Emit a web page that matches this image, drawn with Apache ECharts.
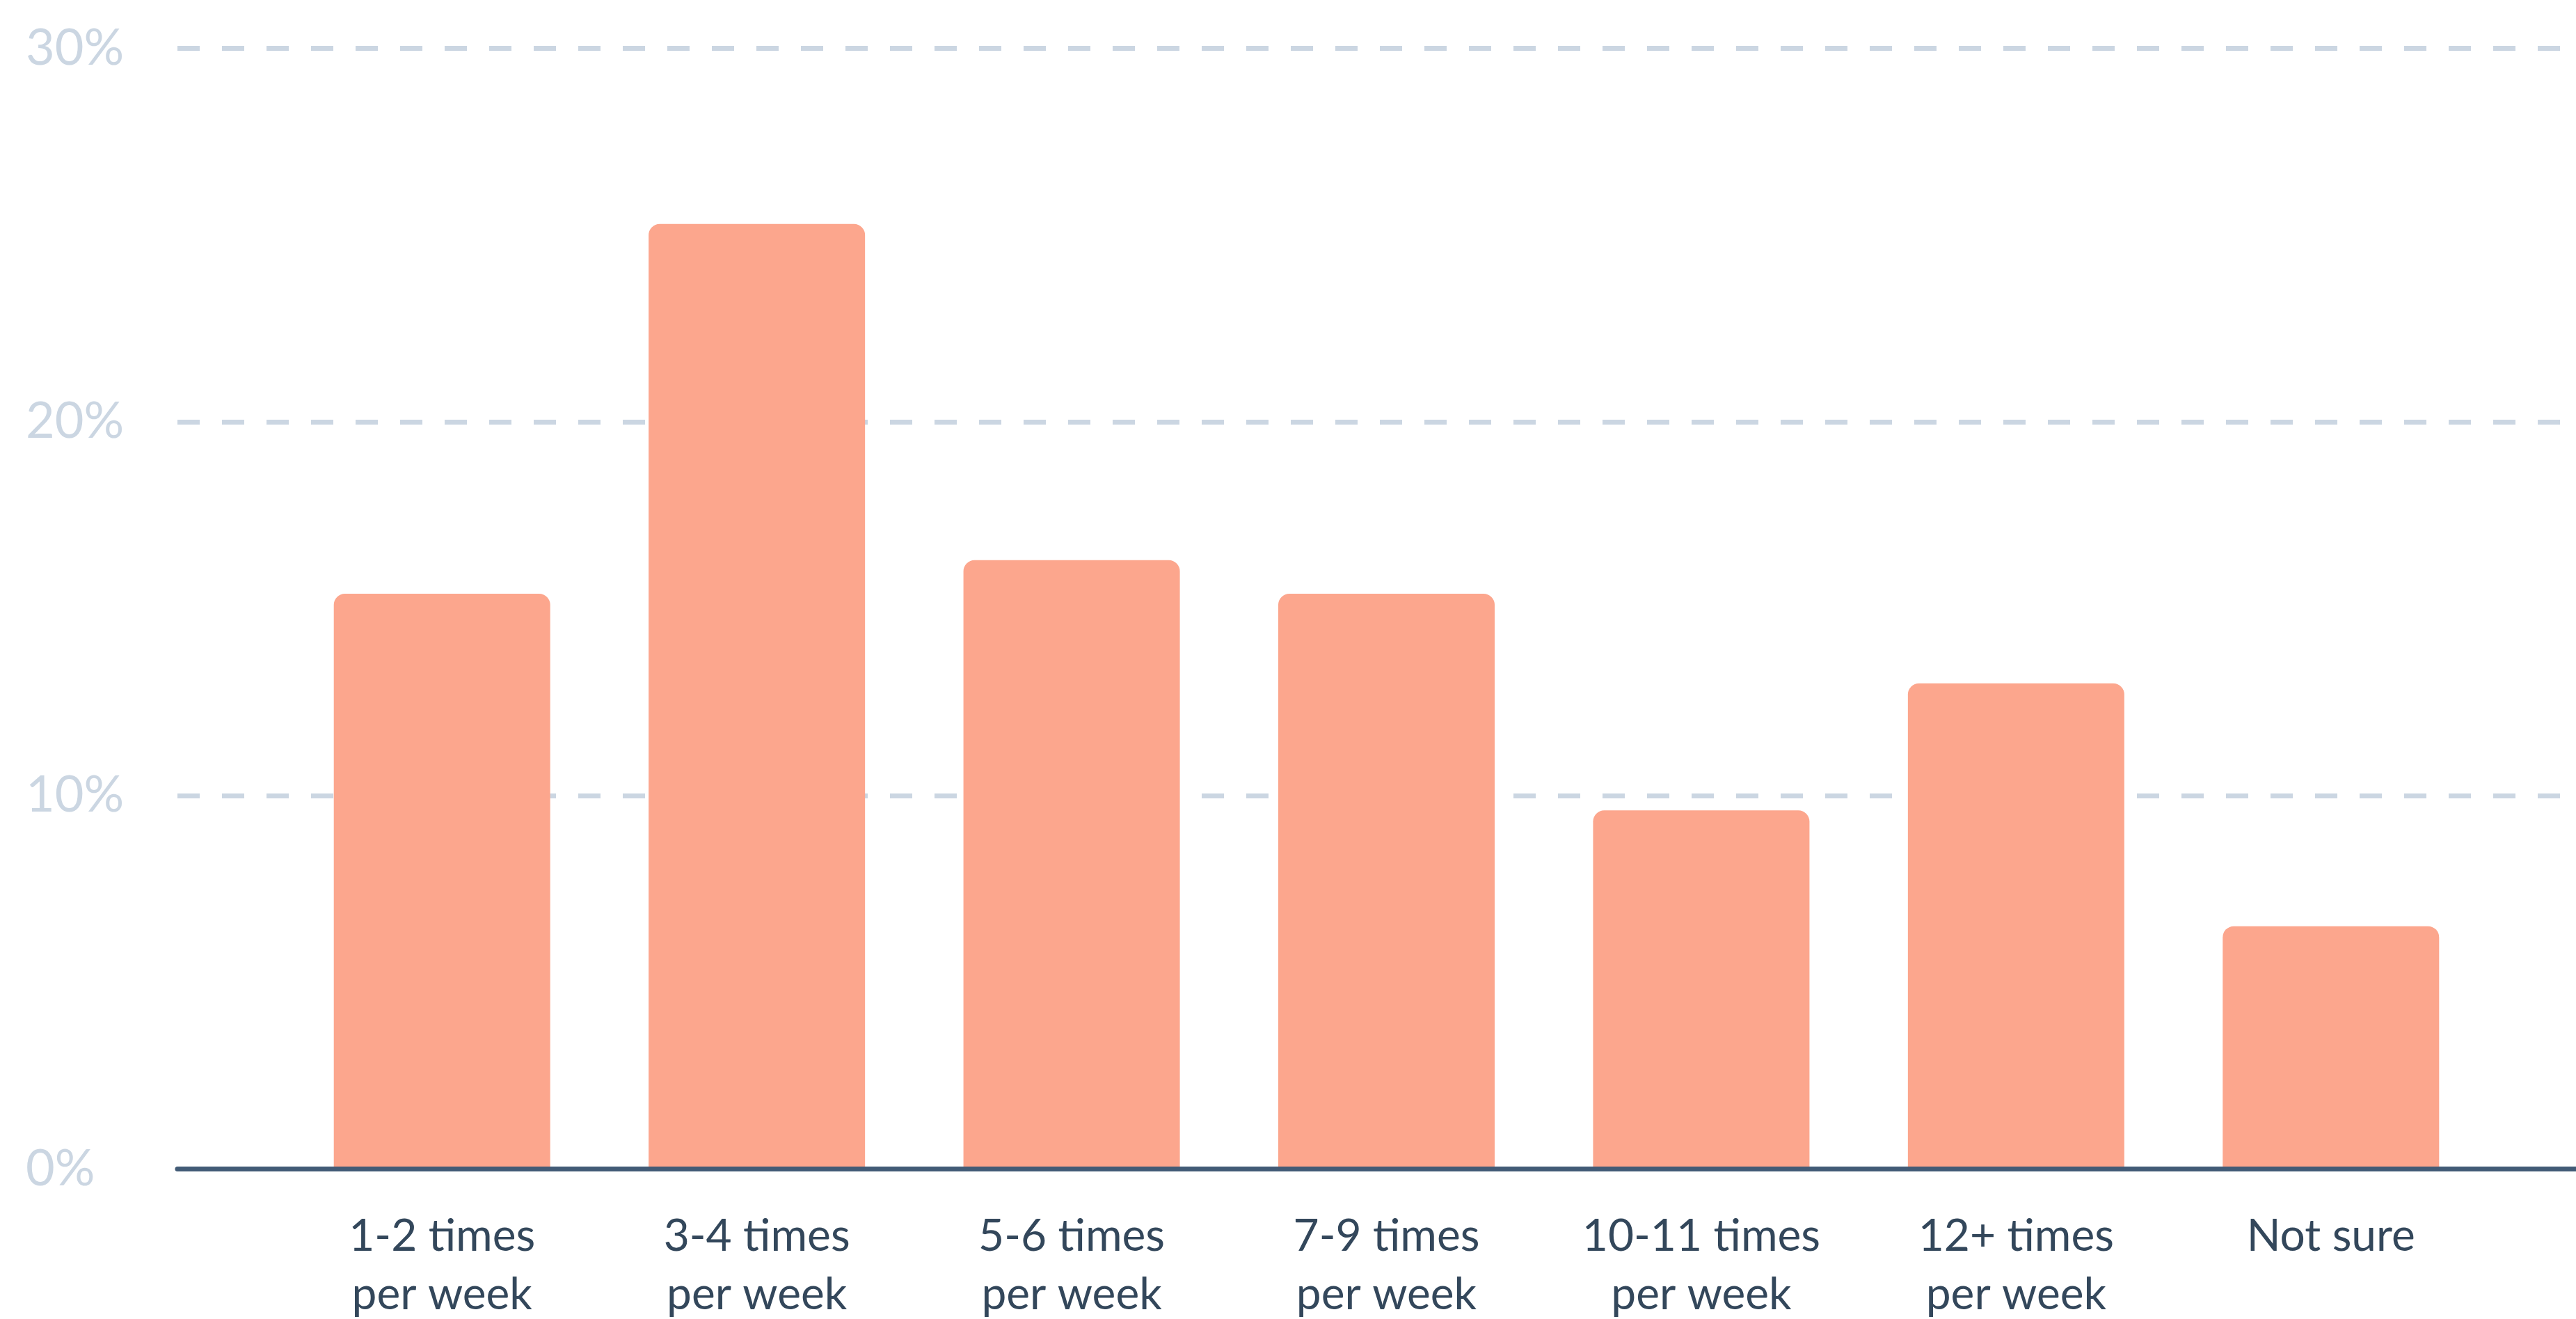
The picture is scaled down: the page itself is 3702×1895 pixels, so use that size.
<!DOCTYPE html>
<html>
<head>
<meta charset="utf-8">
<script src="https://cdn.jsdelivr.net/npm/echarts@6/dist/echarts.min.js"></script>
<style>
    html, body { margin: 0; padding: 0; background: #fff; }
    #chart { width: 3702px; height: 1895px; }
</style>
</head>
<body>
<div id="chart"></div>
<script>
    // 数据
    const categories = [
        '1-2 times\nper week',
        '3-4 times\nper week',
        '5-6 times\nper week',
        '7-9 times\nper week',
        '10-11 times\nper week',
        '12+ times\nper week',
        'Not sure'
    ];
    const shares = [15.4, 25.3, 16.3, 15.4, 9.6, 13.0, 6.5];
    const yTicks = [0, 10, 20, 30];

    const fontFamily = 'Lato, "Open Sans", sans-serif';
    const gridTop = 69.5;
    const gridBottom = 215.5;

    const chart = echarts.init(document.getElementById('chart'));

    let option = {
        backgroundColor: '#fff',
        animation: false,
        grid: [
            // 背景网格线 + 坐标轴线
            { left: 255, right: 0, top: gridTop, bottom: gridBottom, outerBoundsMode: 'none', containLabel: false },
            // 柱子
            { left: 409, right: 126, top: gridTop, bottom: gridBottom, outerBoundsMode: 'none', containLabel: false }
        ],
        xAxis: [
            {
                gridIndex: 0,
                type: 'category',
                data: categories,
                z: 5,
                axisLine: { show: true, lineStyle: { color: '#425b76', width: 7 } },
                axisTick: { show: false },
                axisLabel: { show: false },
                splitLine: { show: false }
            },
            {
                gridIndex: 1,
                type: 'category',
                data: categories,
                axisLine: { show: false },
                axisTick: { show: false },
                axisLabel: {
                    interval: 0,
                    margin: 55,
                    color: '#33475b',
                    fontFamily: fontFamily,
                    fontSize: 64,
                    lineHeight: 84
                }
            }
        ],
        yAxis: [
            {
                gridIndex: 0,
                type: 'value',
                min: yTicks[0],
                max: yTicks[yTicks.length - 1],
                interval: yTicks[1] - yTicks[0],
                axisLine: { show: false },
                axisTick: { show: false },
                axisLabel: {
                    align: 'left',
                    margin: 218,
                    color: '#cbd6e2',
                    fontFamily: fontFamily,
                    fontSize: 72,
                    formatter: function (v) { return v + '%'; }
                },
                splitLine: {
                    show: true,
                    lineStyle: { color: '#cbd6e2', width: 7, type: [32, 32] }
                }
            },
            {
                gridIndex: 1,
                type: 'value',
                min: yTicks[0],
                max: yTicks[yTicks.length - 1],
                show: false,
                splitLine: { show: false }
            }
        ],
        series: [
            {
                type: 'bar',
                xAxisIndex: 1,
                yAxisIndex: 1,
                data: shares,
                barWidth: 311,
                itemStyle: {
                    color: '#fca68d',
                    borderRadius: [16, 16, 0, 0]
                }
            }
        ]
    };

    chart.setOption(option);
</script>
</body>
</html>
